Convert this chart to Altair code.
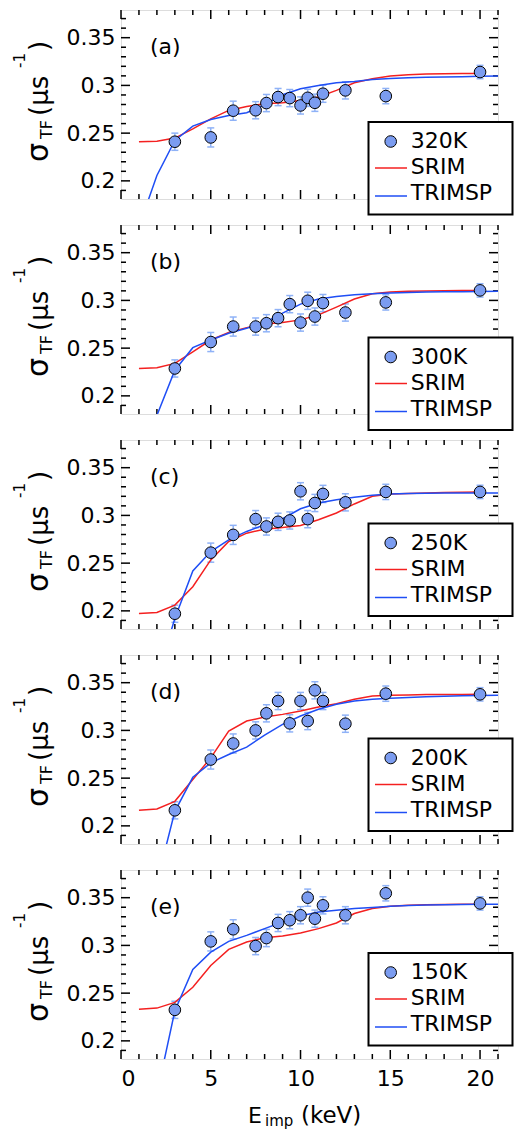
import altair as alt
import pandas as pd

# ---------------- data ----------------
temps = ["320K", "300K", "250K", "200K", "150K"]
panel_labels = ["(a)", "(b)", "(c)", "(d)", "(e)"]

energy = [3.0, 5.0, 6.25, 7.5, 8.1, 8.75, 9.4, 10.0, 10.4, 10.8, 11.25, 12.5, 14.75, 20.0]
sigma_320 = [0.2410, 0.2455, 0.2735, 0.2740, 0.2815, 0.2878, 0.2867, 0.2790, 0.2870, 0.2818, 0.2913, 0.2948, 0.2888, 0.3140]
sigma_300 = [0.2287, 0.2564, 0.2726, 0.2726, 0.2761, 0.2814, 0.2961, 0.2768, 0.2996, 0.2831, 0.2972, 0.2873, 0.2979, 0.3105]
sigma_250 = [0.1970, 0.2610, 0.2796, 0.2961, 0.2884, 0.2933, 0.2947, 0.3253, 0.2961, 0.3130, 0.3225, 0.3137, 0.3246, 0.3246]
sigma_200 = [0.2163, 0.2695, 0.2863, 0.3000, 0.3179, 0.3308, 0.3074, 0.3308, 0.3098, 0.3420, 0.3308, 0.3070, 0.3385, 0.3378]
sigma_150 = [0.2325, 0.3042, 0.3169, 0.2993, 0.3077, 0.3235, 0.3264, 0.3316, 0.3500, 0.3280, 0.3420, 0.3316, 0.3546, 0.3440]
sigma_err = [0.009, 0.010, 0.010, 0.009, 0.009, 0.009, 0.009, 0.009, 0.009, 0.009, 0.009, 0.009, 0.008, 0.007]

srim_energy = [1, 2, 3, 4, 5, 6, 7, 8, 9, 10, 11, 12, 13, 14, 15, 16, 17, 18, 19, 20]
trimsp_energy = [1, 2, 3, 4, 5, 6, 7, 8, 9, 10, 11, 12, 13, 14, 15, 16, 17, 18, 19, 20, 21]

srim_320 = [0.2410, 0.2416, 0.2448, 0.2545, 0.2650, 0.2738, 0.2780, 0.2808, 0.2818, 0.2843, 0.2878, 0.2948, 0.3028, 0.3070, 0.3098, 0.3112, 0.3119, 0.3122, 0.3124, 0.3126]
trimsp_320 = [0.152, 0.2056, 0.2423, 0.2573, 0.2643, 0.2685, 0.2713, 0.2797, 0.2902, 0.2965, 0.3000, 0.3028, 0.3042, 0.3063, 0.3073, 0.3080, 0.3085, 0.3089, 0.3092, 0.3095, 0.3098]
srim_300 = [0.2287, 0.2294, 0.2340, 0.2462, 0.2585, 0.2663, 0.2715, 0.2754, 0.2768, 0.2796, 0.2849, 0.2930, 0.3014, 0.3070, 0.3088, 0.3095, 0.3099, 0.3102, 0.3104, 0.3105]
trimsp_300 = [0.130, 0.1795, 0.2269, 0.2505, 0.2585, 0.2656, 0.2708, 0.2768, 0.2866, 0.2961, 0.3014, 0.3042, 0.3060, 0.3070, 0.3078, 0.3083, 0.3087, 0.3090, 0.3092, 0.3094, 0.3095]
srim_250 = [0.1973, 0.1983, 0.2060, 0.2253, 0.2534, 0.2727, 0.2814, 0.2856, 0.2874, 0.2895, 0.2954, 0.3025, 0.3120, 0.3200, 0.3224, 0.3230, 0.3235, 0.3239, 0.3242, 0.3245]
trimsp_250 = [0.080, 0.130, 0.192, 0.2418, 0.2621, 0.2744, 0.2832, 0.2902, 0.2965, 0.3070, 0.3130, 0.3165, 0.3189, 0.3210, 0.3224, 0.3229, 0.3232, 0.3234, 0.3235, 0.3235, 0.3235]
srim_200 = [0.2163, 0.2177, 0.2257, 0.2485, 0.2713, 0.2993, 0.3098, 0.3140, 0.3168, 0.3203, 0.3245, 0.3280, 0.3326, 0.3361, 0.3368, 0.3372, 0.3375, 0.3376, 0.3377, 0.3378]
trimsp_200 = [0.090, 0.141, 0.2152, 0.2509, 0.2660, 0.2748, 0.2825, 0.2951, 0.3063, 0.3151, 0.3221, 0.3273, 0.3308, 0.3326, 0.3336, 0.3345, 0.3352, 0.3357, 0.3362, 0.3365, 0.3368]
srim_150 = [0.2332, 0.2343, 0.2403, 0.2561, 0.2789, 0.2958, 0.3035, 0.3081, 0.3098, 0.3130, 0.3176, 0.3235, 0.3334, 0.3387, 0.3411, 0.3420, 0.3425, 0.3428, 0.3430, 0.3432]
trimsp_150 = [0.095, 0.144, 0.2315, 0.2747, 0.2930, 0.3042, 0.3105, 0.3176, 0.3246, 0.3309, 0.3351, 0.3369, 0.3387, 0.3397, 0.3411, 0.3418, 0.3423, 0.3427, 0.3429, 0.3431, 0.3432]

x_major = [0, 5, 10, 15, 20]
x_minor = [1, 2, 3, 4, 6, 7, 8, 9, 11, 12, 13, 14, 16, 17, 18, 19, 21]
y_major = [0.20, 0.25, 0.30, 0.35]
y_minor = [0.19, 0.21, 0.22, 0.23, 0.24, 0.26, 0.27, 0.28, 0.29, 0.31, 0.32, 0.33, 0.34, 0.36, 0.37]

sigmas = [sigma_320, sigma_300, sigma_250, sigma_200, sigma_150]
srims = [srim_320, srim_300, srim_250, srim_200, srim_150]
trimsps = [trimsp_320, trimsp_300, trimsp_250, trimsp_200, trimsp_150]

# ---------------- style / layout ----------------
FONT = "DejaVu Sans"
W, H = 377, 189
MARK = "#7b9cf0"
ERRC = "#8fb2f7"
RED = "#f42020"
BLUE = "#1f4ef5"
legend_top = [112, 112.5, 83.5, 83.5, 83]
LEG_X0, LEG_X1 = 247.5, 391.5

xs = alt.Scale(domain=[0, 21], nice=False, zero=False)
ys = alt.Scale(domain=[0.181, 0.379], nice=False, zero=False)

yaxis = alt.Axis(values=y_major, format=".2~f", labelFont=FONT, labelFontSize=22,
                 labelColor="black", ticks=False, tickSize=0, domain=False, grid=False,
                 labelPadding=6, title=None)
xaxis_bottom = alt.Axis(values=x_major, format="d", labelFont=FONT, labelFontSize=22,
                        labelColor="black", ticks=False, tickSize=0, domain=False, grid=False,
                        labelPadding=9, title=None)

one = pd.DataFrame({"k": [0]})


def panel(i, last):
    xaxis = xaxis_bottom if last else None

    def X(f):
        return alt.X(f, type="quantitative", scale=xs, axis=xaxis)

    def Y(f):
        return alt.Y(f, type="quantitative", scale=ys, axis=yaxis)

    pts = pd.DataFrame({"E": energy, "s": sigmas[i], "err": sigma_err})
    pts["lo"] = pts["s"] - pts["err"]
    pts["hi"] = pts["s"] + pts["err"]
    srim = pd.DataFrame({"E": srim_energy, "v": srims[i]})
    trim = pd.DataFrame({"E": trimsp_energy, "v": trimsps[i]})
    dxM = pd.DataFrame({"t": x_major})
    dxm = pd.DataFrame({"t": x_minor})
    dyM = pd.DataFrame({"t": y_major})
    dym = pd.DataFrame({"t": y_minor})

    layers = []
    tick_style = dict(color="black", strokeWidth=1.5)
    for d, L in ((dxM, 9), (dxm, 5)):
        layers.append(alt.Chart(d).mark_rule(**tick_style).encode(
            x=X("t"), y=alt.value(H), y2=alt.value(H - L)))
        layers.append(alt.Chart(d).mark_rule(**tick_style).encode(
            x=X("t"), y=alt.value(0), y2=alt.value(L)))
    for d, L in ((dyM, 9), (dym, 5)):
        layers.append(alt.Chart(d).mark_rule(**tick_style).encode(
            y=Y("t"), x=alt.value(0), x2=alt.value(L)))
        layers.append(alt.Chart(d).mark_rule(**tick_style).encode(
            y=Y("t"), x=alt.value(W), x2=alt.value(W - L)))

    # error bars
    layers.append(alt.Chart(pts).mark_rule(color=ERRC, strokeWidth=1.5).encode(
        x=X("E"), y=Y("lo"), y2="hi"))
    layers.append(alt.Chart(pts).mark_tick(color=ERRC, orient="horizontal", size=7,
                                           thickness=1.5, opacity=1).encode(x=X("E"), y=Y("lo")))
    layers.append(alt.Chart(pts).mark_tick(color=ERRC, orient="horizontal", size=7,
                                           thickness=1.5, opacity=1).encode(x=X("E"), y=Y("hi")))
    # simulation curves
    layers.append(alt.Chart(srim).mark_line(color=RED, strokeWidth=1.5, clip=True).encode(
        x=X("E"), y=Y("v")))
    layers.append(alt.Chart(trim).mark_line(color=BLUE, strokeWidth=1.5, clip=True).encode(
        x=X("E"), y=Y("v")))
    # points
    layers.append(alt.Chart(pts).mark_circle(size=135, fill=MARK, stroke="black",
                                             strokeWidth=1, opacity=1).encode(
        x=X("E"), y=Y("s")))

    # panel label
    lab = pd.DataFrame({"txt": [panel_labels[i]]})
    layers.append(alt.Chart(lab).mark_text(font=FONT, fontSize=22, align="left",
                                           baseline="alphabetic", color="black").encode(
        x=alt.value(29), y=alt.value(43.5), text="txt:N"))

    # legend
    t = legend_top[i]
    leg = pd.DataFrame({"txt": [temps[i]]})
    layers.append(alt.Chart(one).mark_rect(fill="white", stroke="black", strokeWidth=2).encode(
        x=alt.value(LEG_X0), x2=alt.value(LEG_X1), y=alt.value(t), y2=alt.value(t + 92.5)))
    layers.append(alt.Chart(one).mark_circle(size=135, fill=MARK, stroke="black",
                                             strokeWidth=1, opacity=1).encode(
        x=alt.value(269.7), y=alt.value(t + 19.5)))
    layers.append(alt.Chart(one).mark_rule(color=RED, strokeWidth=1.5).encode(
        x=alt.value(254), x2=alt.value(286), y=alt.value(t + 46)))
    layers.append(alt.Chart(one).mark_rule(color=BLUE, strokeWidth=1.5).encode(
        x=alt.value(254), x2=alt.value(286), y=alt.value(t + 74)))
    txt_style = dict(font=FONT, fontSize=22, align="left", baseline="alphabetic", color="black")
    layers.append(alt.Chart(leg).mark_text(**txt_style).encode(
        x=alt.value(289.7), y=alt.value(t + 26), text="txt:N"))
    layers.append(alt.Chart(one).mark_text(text="SRIM", **txt_style).encode(
        x=alt.value(289.7), y=alt.value(t + 52)))
    layers.append(alt.Chart(one).mark_text(text="TRIMSP", **txt_style).encode(
        x=alt.value(289.7), y=alt.value(t + 78)))

    # y-axis title  sigma_TF (mus^-1), rotated
    rot = dict(angle=270, align="left", baseline="alphabetic", color="black", font=FONT)
    layers.append(alt.Chart(one).mark_text(text="σ", fontSize=30, **rot).encode(
        x=alt.value(-73), y=alt.value(152)))
    layers.append(alt.Chart(one).mark_text(text="TF", fontSize=16, **rot).encode(
        x=alt.value(-69), y=alt.value(129)))
    layers.append(alt.Chart(one).mark_text(text="(μs", fontSize=26, **rot).encode(
        x=alt.value(-73), y=alt.value(106)))
    layers.append(alt.Chart(one).mark_text(text="-1", fontSize=15, **rot).encode(
        x=alt.value(-96), y=alt.value(58)))
    layers.append(alt.Chart(one).mark_text(text=")", fontSize=26, **rot).encode(
        x=alt.value(-73), y=alt.value(41)))
    # invisible anchor fixing the left extent
    layers.append(alt.Chart(one).mark_rule(opacity=0, strokeWidth=1).encode(
        x=alt.value(-112.5), y=alt.value(80), y2=alt.value(90)))

    if last:
        xt = dict(align="left", baseline="alphabetic", color="black", font=FONT)
        layers.append(alt.Chart(one).mark_text(text="E", fontSize=22, **xt).encode(
            x=alt.value(127), y=alt.value(252.5)))
        layers.append(alt.Chart(one).mark_text(text="imp", fontSize=15, **xt).encode(
            x=alt.value(144), y=alt.value(256)))
        layers.append(alt.Chart(one).mark_text(text="(keV)", fontSize=23, **xt).encode(
            x=alt.value(180), y=alt.value(252.5)))

    return alt.layer(*layers).properties(width=W, height=H)


charts = [panel(i, i == 4) for i in range(5)]
chart = alt.vconcat(*charts, spacing=26, bounds="flush").properties(
    padding={"left": 0, "top": 0, "right": 0, "bottom": 0}
).configure_view(stroke="black", strokeWidth=2).configure(background="white")

chart.save("out.html", embed_options={"renderer": "svg", "actions": False})
